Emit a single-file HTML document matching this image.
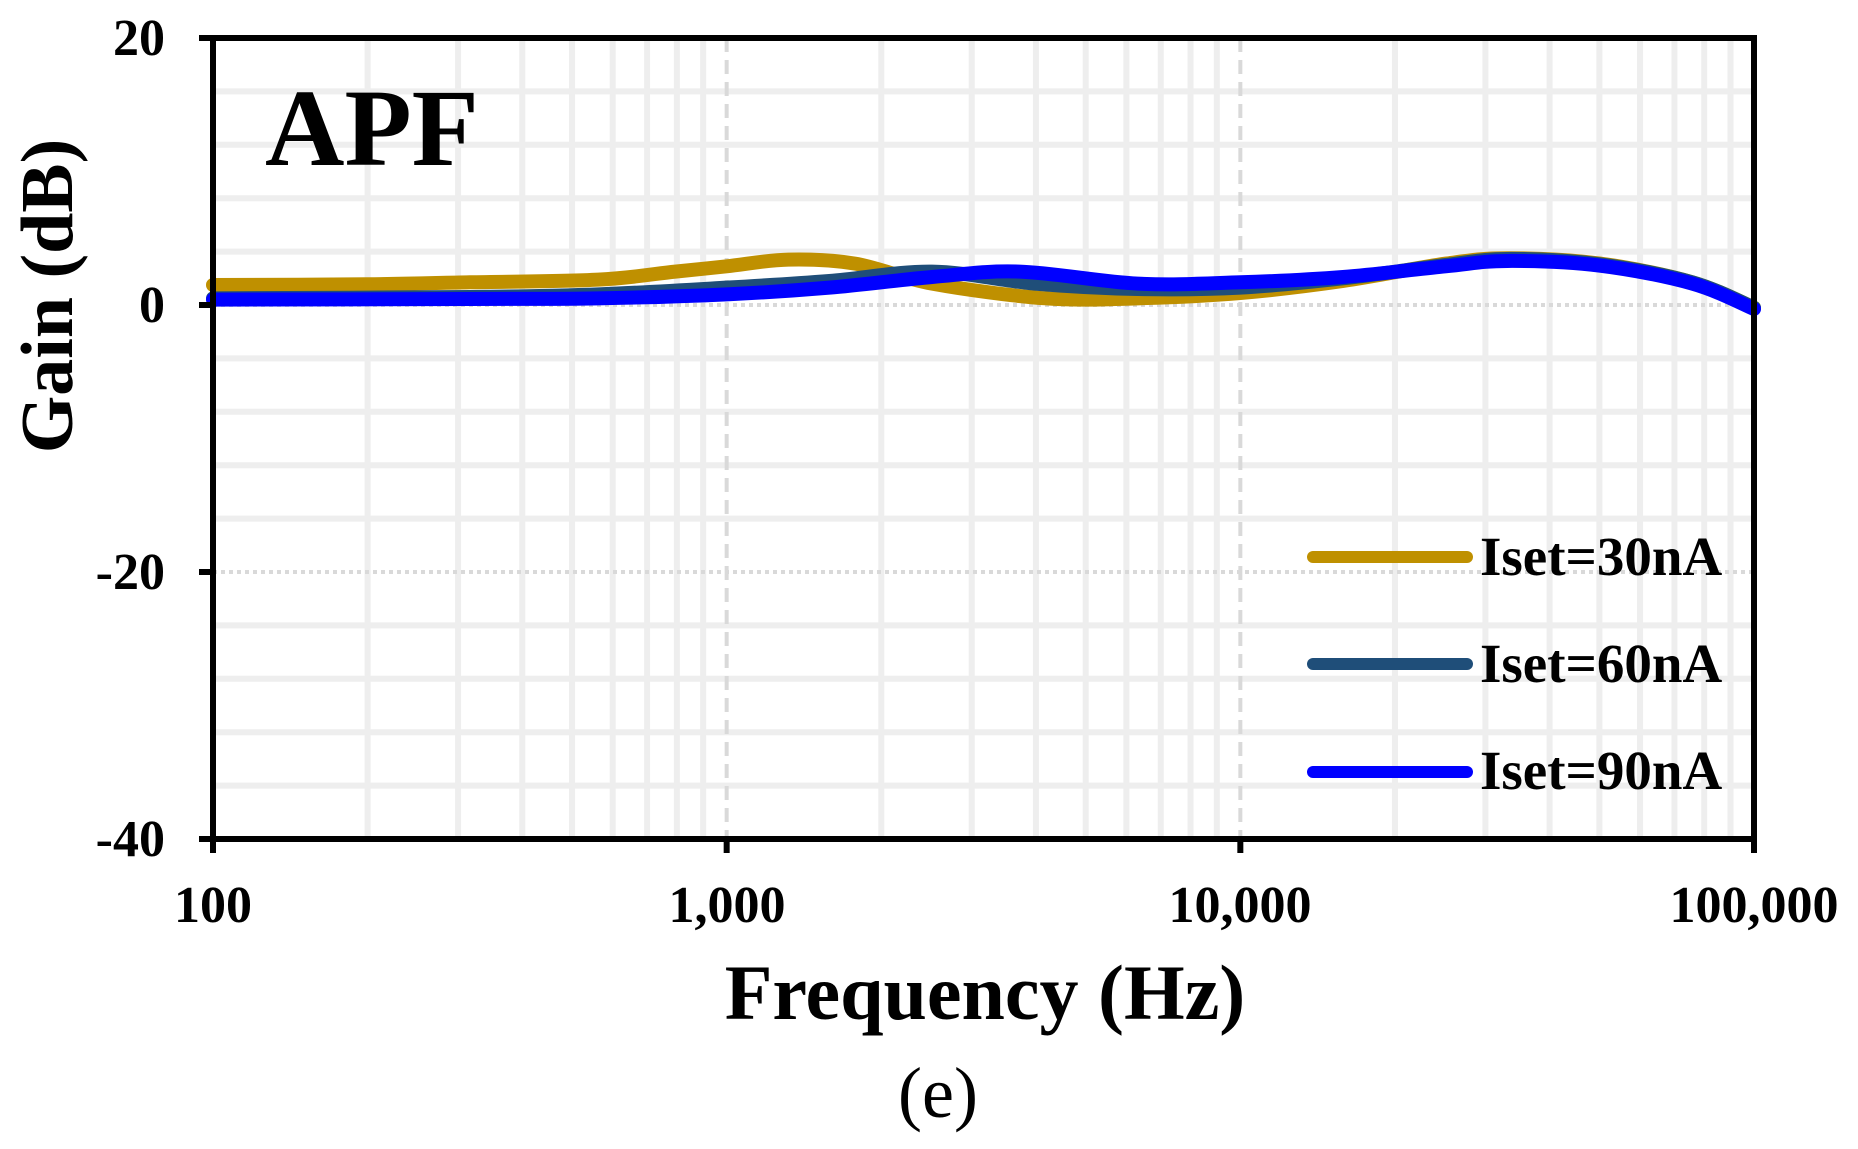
<!DOCTYPE html>
<html><head><meta charset="utf-8"><style>
html,body{margin:0;padding:0;background:#fff;}
svg{display:block;}
text{font-family:"Liberation Serif","Times New Roman",serif;font-weight:bold;fill:#000;}
</style></head><body>
<svg id="c" width="1858" height="1149" viewBox="0 0 1858 1149" xmlns="http://www.w3.org/2000/svg">
<g id="grid"></g>
<g id="series" fill="none" stroke-linecap="round" stroke-linejoin="round"></g>
<g id="axes"></g>
<text x="265" y="165" font-size="110">APF</text>
<text x="165" y="55" font-size="52" text-anchor="end">20</text>
<text x="165" y="322" font-size="52" text-anchor="end">0</text>
<text x="165" y="589" font-size="52" text-anchor="end">-20</text>
<text x="165" y="856" font-size="52" text-anchor="end">-40</text>
<text x="213" y="922" font-size="52" text-anchor="middle">100</text>
<text x="727" y="922" font-size="52" text-anchor="middle">1,000</text>
<text x="1240" y="922" font-size="52" text-anchor="middle">10,000</text>
<text x="1754" y="922" font-size="52" text-anchor="middle">100,000</text>
<text x="985" y="1019" font-size="78" text-anchor="middle">Frequency (Hz)</text>
<text transform="translate(72,296) rotate(-90)" font-size="74" text-anchor="middle">Gain (dB)</text>
<text x="938" y="1117" font-size="72" text-anchor="middle" style="font-weight:normal">(e)</text>
<g stroke-linecap="round" stroke-width="12">
<line x1="1313" y1="557" x2="1467" y2="557" stroke="#bf9000"/>
<line x1="1313" y1="664" x2="1467" y2="664" stroke="#1f4e79"/>
<line x1="1313" y1="772" x2="1467" y2="772" stroke="#0000ff"/>
</g>
<text x="1480" y="575" font-size="55">Iset=30nA</text>
<text x="1480" y="682" font-size="55">Iset=60nA</text>
<text x="1480" y="789" font-size="55">Iset=90nA</text>
</svg>
<script>
var NS="http://www.w3.org/2000/svg";
var X0=213,X1=1754,YT=38,YB=839;
function X(l){return X0+(l-2)*(X1-X0)/3;}
function Y(g){return 305-g*(YB-YT)/60;}
function el(p,t,a){var e=document.createElementNS(NS,t);for(var k in a)e.setAttribute(k,a[k]);p.appendChild(e);return e;}
var G=document.getElementById('grid');
for(var g=16;g>-40;g-=4){ if(g%20===0)continue; el(G,'line',{x1:X0,x2:X1,y1:Y(g),y2:Y(g),stroke:'#eeeeee','stroke-width':6}); }
for(var d=2;d<5;d++)for(var m=2;m<10;m++){var x=X(d+Math.log10(m));el(G,'line',{x1:x,x2:x,y1:YT,y2:YB,stroke:'#eeeeee','stroke-width':6});}
[0,-20].forEach(function(g){el(G,'line',{x1:X0,x2:X1,y1:Y(g),y2:Y(g),stroke:'#d9d9d9','stroke-width':4,'stroke-dasharray':'4 4'});});
[3,4].forEach(function(l){el(G,'line',{x1:X(l),x2:X(l),y1:YT,y2:YB,stroke:'#d9d9d9','stroke-width':4,'stroke-dasharray':'14 8'});});
function path(pts){
 var P=pts.map(function(p){return [X(p[0]),Y(p[1])];});
 var s='M'+P[0][0]+','+P[0][1];
 for(var i=0;i<P.length-1;i++){
  var p0=P[i-1]||P[i],p1=P[i],p2=P[i+1],p3=P[i+2]||P[i+1];
  var c1=[p1[0]+(p2[0]-p0[0])/6,p1[1]+(p2[1]-p0[1])/6];
  var c2=[p2[0]-(p3[0]-p1[0])/6,p2[1]-(p3[1]-p1[1])/6];
  s+=' C'+c1+' '+c2+' '+p2;
 }
 return s;
}
var S=document.getElementById('series');
var gold=[[2,1.5],[2.3,1.55],[2.5,1.7],[2.75,1.9],[2.9,2.5],[3.0,2.9],[3.12,3.4],[3.25,3.1],[3.4,1.6],[3.62,0.5],[3.8,0.5],[4.0,0.9],[4.2,1.8],[4.4,3.1],[4.52,3.5],[4.7,3.1],[4.88,1.7],[5.0,-0.2]];
var dark=[[2,0.5],[2.5,0.6],[2.75,0.8],[3.0,1.3],[3.2,1.8],[3.4,2.5],[3.6,1.6],[3.8,1.2],[4.0,1.3],[4.2,2.0],[4.4,3.0],[4.52,3.45],[4.7,3.05],[4.88,1.7],[5,-0.2]];
var blue=[[2,0.4],[2.5,0.45],[2.75,0.5],[3.0,0.8],[3.2,1.3],[3.4,2.1],[3.57,2.5],[3.8,1.6],[4.0,1.7],[4.2,2.1],[4.4,2.9],[4.52,3.3],[4.7,2.95],[4.88,1.6],[5,-0.3]];
el(S,'path',{d:path(gold),stroke:'#bf9000','stroke-width':14});
el(S,'path',{d:path(dark),stroke:'#1f4e79','stroke-width':14});
el(S,'path',{d:path(blue),stroke:'#0000ff','stroke-width':14});
var A=document.getElementById('axes');
el(A,'rect',{x:X0,y:YT,width:X1-X0,height:YB-YT,fill:'none',stroke:'#000','stroke-width':6});
[20,0,-20,-40].forEach(function(g){el(A,'line',{x1:X0-14,x2:X0,y1:Y(g),y2:Y(g),stroke:'#000','stroke-width':6});});
[2,3,4,5].forEach(function(l){el(A,'line',{x1:X(l),x2:X(l),y1:YB,y2:YB+14,stroke:'#000','stroke-width':6});});
</script>
</body></html>
